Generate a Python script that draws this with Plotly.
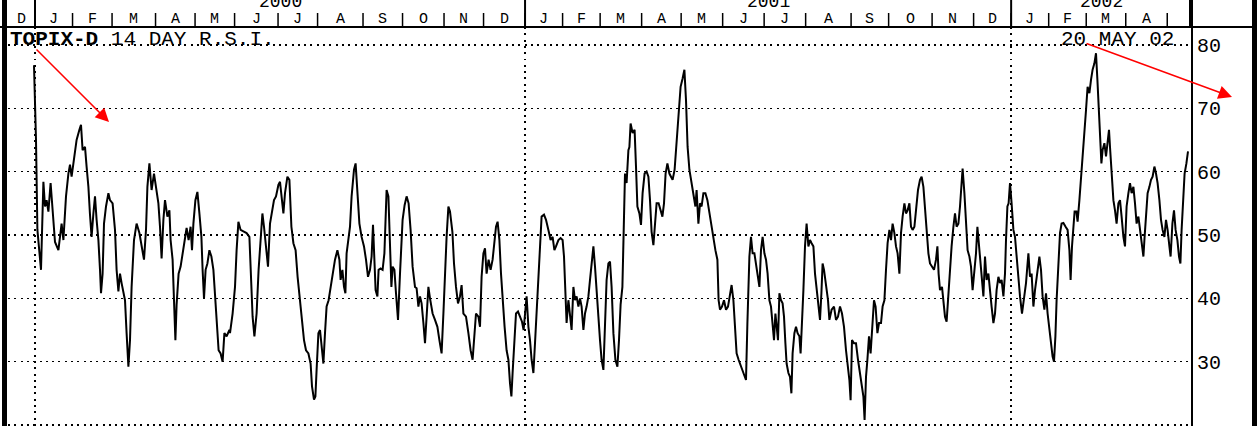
import numpy as np
import pandas as pd
import plotly.graph_objects as go

# ---------------- data (x = trading-day number since 2000-01-01, y = RSI) -------------
day_a = [-0.5, 0.5, 1.2, 3.0, 4.2, 5.0, 5.8, 6.7, 7.8, 8.8, 10.0, 11.7, 13.3, 14.2, 15.5, 16.7, 17.5, 18.3, 19.5, 20.8,
         22.2, 23.0, 23.8, 25.0, 25.8, 26.7, 27.5, 28.3, 29.2, 30.0, 30.8, 31.7, 32.5, 33.0, 33.8, 34.5, 35.5, 36.7, 37.5, 38.8,
         40.0, 40.8, 41.7, 42.5, 43.3, 45.0, 45.8, 46.7, 47.5, 48.3, 49.5, 50.8, 52.2, 53.3, 54.5, 55.5, 56.2, 57.2, 58.3, 59.5,
         60.5, 61.7, 62.5, 63.3, 64.2, 65.0, 66.2, 67.2, 67.8, 68.8, 69.5, 70.2, 70.8, 71.8, 72.8, 73.8, 75.0, 75.8, 76.8, 77.8,
         78.5, 79.2, 80.2, 81.2, 82.2, 83.2, 83.8, 84.5, 85.3, 86.2, 87.2, 88.2, 89.2, 90.0, 90.8, 91.8, 92.8, 93.8, 94.7, 95.8,
         97.2]
rsi_a = [76.8, 65.0, 50.8, 44.5, 58.4, 54.5, 55.5, 53.7, 58.2, 53.4, 48.9, 47.6, 51.8, 49.2, 56.1, 59.7, 61.1, 59.2, 62.4, 65.0,
         66.6, 67.4, 63.4, 63.9, 60.8, 57.6, 53.2, 49.7, 53.4, 56.1, 52.4, 49.2, 44.5, 40.8, 43.9, 51.8, 54.5, 56.6, 55.5, 55.0,
         50.8, 44.5, 41.1, 43.9, 42.4, 39.7, 34.5, 29.2, 33.4, 41.8, 49.2, 51.8, 50.3, 48.2, 46.1, 50.8, 57.6, 61.3, 57.1, 59.7,
         57.6, 55.0, 51.3, 46.3, 52.4, 55.5, 52.9, 53.9, 49.2, 46.1, 39.7, 33.4, 39.0, 43.9, 45.0, 47.1, 49.7, 51.1, 49.2, 51.3,
         47.6, 51.8, 55.5, 56.8, 53.4, 49.7, 44.5, 40.0, 44.5, 45.5, 47.6, 46.6, 44.5, 40.0, 35.5, 31.8, 31.3, 30.0, 34.5, 34.0,
         35.0]

day_b = [97.5, 98.8, 100.0, 100.8, 101.7, 102.8, 104.2, 105.8, 107.2, 108.0, 108.8, 109.7, 110.8, 111.8, 112.8, 113.7, 114.5,
         115.5, 116.5, 117.5, 118.5, 119.5, 120.5, 121.7, 122.5, 123.3, 124.2, 125.0, 126.2, 127.2, 128.2, 129.2, 130.3, 131.3,
         132.5, 133.3, 134.5, 135.5, 136.7, 137.8, 138.5, 139.5, 140.2, 140.8, 141.7, 142.5, 143.3, 144.2, 145.0, 145.8, 146.8,
         147.8, 148.8, 150.0, 151.2, 152.2, 152.8, 153.7, 154.5, 155.2, 155.8, 156.7, 157.5, 158.3, 159.5, 160.3, 161.2, 162.2,
         163.3, 164.5, 165.5, 166.5, 167.5, 168.3, 169.0, 169.7, 170.3, 171.2, 171.8, 172.8, 173.8, 174.7, 175.3, 175.8, 176.7,
         177.5, 178.2, 178.8, 179.7, 180.5, 181.5, 182.5, 183.2, 183.8, 184.8, 185.8, 186.8, 187.8, 188.8, 190.0, 190.8, 191.7,
         192.5, 193.3, 194.2, 195.0, 195.8, 196.7]
rsi_b = [34.5, 37.6, 41.8, 47.6, 52.1, 50.8, 50.5, 50.3, 49.7, 43.9, 37.1, 34.0, 37.6, 44.5, 50.3, 53.4, 51.3, 48.2, 45.0, 51.8,
         53.9, 55.5, 56.1, 57.9, 58.4, 56.1, 53.4, 56.6, 59.2, 58.7, 51.3, 48.7, 47.6, 43.4, 39.2, 37.1, 33.4, 31.8, 31.3, 29.7,
         26.1, 24.0, 24.5, 28.7, 34.5, 35.0, 32.4, 29.7, 34.5, 38.7, 39.7, 41.6, 43.9, 46.1, 47.6, 46.1, 42.9, 44.5, 41.8, 40.8,
         47.1, 49.2, 51.3, 56.1, 60.3, 61.3, 56.6, 51.8, 49.7, 48.2, 46.1, 43.4, 44.5, 46.6, 51.6, 46.6, 41.3, 40.3, 44.5, 44.7,
         44.5, 47.1, 52.4, 57.1, 56.1, 48.2, 41.8, 45.0, 44.5, 40.8, 36.6, 43.9, 48.2, 52.4, 54.7, 56.1, 55.0, 50.8, 45.0, 41.8,
         41.6, 38.7, 40.3, 39.2, 36.1, 32.9, 37.1, 41.8]

day_c = [197.5, 198.8, 200.0, 201.2, 202.2, 203.3, 204.2, 205.0, 205.8, 206.7, 207.5, 208.7, 209.5, 210.5, 211.5, 212.5, 213.3,
         214.2, 215.5, 216.7, 217.8, 218.8, 219.7, 220.5, 221.7, 222.5, 223.3, 224.2, 225.0, 225.8, 226.8, 227.8, 228.8, 229.7,
         230.5, 231.3, 232.2, 233.0, 233.8, 234.8, 235.8, 236.7, 237.5, 238.2, 238.8, 239.5, 240.5, 241.5, 242.5, 243.5, 244.3,
         245.2, 245.8, 246.7, 247.5, 248.3, 249.2, 250.0, 250.8, 251.7, 252.5, 253.3, 254.5, 255.5, 256.7, 257.8, 258.8, 259.7,
         260.5, 261.7, 262.8, 263.8, 264.5, 265.2, 265.8, 266.7, 267.5, 268.3, 269.2, 270.0, 270.8, 271.7, 272.5, 273.3, 274.2,
         275.0, 275.8, 276.7, 277.5, 278.3, 279.2, 280.0, 280.8, 281.7, 282.5, 283.3, 284.2, 285.0, 285.8, 286.7, 287.5, 288.3,
         289.2, 290.2, 291.2, 292.0, 292.8, 293.7, 294.2, 295.0, 295.8, 296.7, 297.2]
rsi_c = [40.0, 37.6, 36.6, 35.5, 33.4, 31.3, 37.6, 45.0, 49.7, 54.5, 53.7, 50.5, 45.5, 41.8, 39.2, 40.3, 42.1, 37.6, 37.1, 34.5,
         31.8, 30.3, 34.0, 37.6, 37.1, 35.5, 43.4, 47.1, 47.9, 43.9, 46.1, 44.5, 46.1, 49.2, 51.3, 52.1, 49.2, 43.9, 39.7, 35.5,
         31.8, 30.3, 26.6, 24.5, 28.2, 31.8, 37.6, 37.9, 37.1, 36.3, 35.0, 37.6, 40.3, 35.5, 33.4, 30.3, 28.2, 32.9, 37.6, 42.9,
         49.2, 52.9, 53.2, 52.4, 50.8, 49.2, 49.7, 47.6, 48.2, 49.2, 49.5, 49.2, 46.6, 40.8, 36.1, 39.7, 37.6, 35.0, 41.8, 39.7,
         40.3, 38.7, 40.0, 38.7, 35.0, 37.6, 38.7, 40.3, 42.9, 46.1, 48.2, 45.0, 41.8, 37.1, 33.4, 30.3, 28.7, 34.5, 42.9, 45.5,
         45.8, 41.8, 34.5, 30.3, 29.2, 33.4, 39.0, 41.8, 50.8, 59.7, 58.2, 63.4, 63.9]

day_d = [297.8, 298.8, 299.8, 300.5, 301.2, 302.2, 303.0, 303.8, 304.8, 305.8, 306.7, 307.5, 308.3, 309.2, 310.0, 310.8, 311.8,
         312.8, 313.7, 314.5, 315.3, 316.2, 317.2, 318.0, 318.8, 319.8, 320.8, 321.8, 322.8, 323.8, 324.7, 325.5, 326.3, 327.2,
         328.2, 329.2, 330.2, 330.8, 331.7, 332.5, 333.3, 334.2, 335.2, 336.2, 337.2, 338.2, 339.2, 340.2, 341.2, 341.8, 342.5,
         343.5, 344.5, 345.5, 346.5, 347.5, 348.3, 349.2, 350.0, 350.8, 351.8, 352.8, 353.8, 354.8, 355.5, 356.2, 357.2, 358.0,
         358.8, 359.7, 360.5, 361.3, 362.2, 363.0, 363.8, 364.7, 365.5, 366.3, 367.2, 368.0, 368.8, 369.5, 370.2, 370.8, 371.5,
         372.2, 373.0, 373.8, 374.5, 375.2, 375.8, 376.7, 377.5, 378.2, 378.8, 379.7, 380.5, 381.3, 382.2, 382.8, 383.5, 384.2,
         385.0, 385.8, 386.7, 387.5, 388.3, 389.2, 390.0, 390.8, 391.7, 392.5, 393.2, 393.8, 394.5, 395.5, 396.5, 397.2]
rsi_d = [67.6, 66.1, 66.6, 60.8, 54.5, 53.4, 51.6, 56.6, 59.7, 60.0, 59.2, 55.5, 50.5, 48.4, 51.3, 55.0, 55.0, 53.9, 52.9, 55.0,
         59.7, 61.3, 59.7, 59.2, 58.7, 60.3, 65.0, 69.2, 73.4, 74.7, 76.1, 71.3, 63.9, 60.3, 58.2, 56.1, 54.5, 57.1, 51.8, 55.0,
         54.5, 56.6, 56.6, 55.5, 53.4, 51.3, 49.2, 47.6, 46.1, 39.7, 38.2, 38.7, 39.7, 38.2, 38.7, 40.3, 42.1, 39.7, 35.5, 31.3,
         30.3, 29.5, 28.7, 27.6, 27.1, 36.1, 46.6, 49.7, 47.1, 47.1, 45.5, 43.9, 41.8, 47.6, 49.7, 47.1, 46.1, 43.9, 39.7, 38.7,
         35.5, 33.4, 37.6, 35.5, 33.4, 40.8, 39.7, 39.2, 37.1, 32.9, 29.7, 28.2, 27.6, 25.0, 31.3, 34.5, 35.5, 34.5, 34.0, 31.3,
         35.5, 41.3, 48.2, 51.8, 48.2, 49.2, 48.7, 48.2, 43.9, 41.8, 38.7, 36.6, 40.8, 45.5, 44.5, 42.4, 39.7, 36.6]

day_e = [398.3, 399.5, 400.5, 401.5, 402.5, 403.5, 404.5, 405.5, 406.3, 407.2, 407.8, 408.5, 409.5, 410.5, 411.5, 412.5, 413.3,
         414.2, 414.8, 415.5, 416.2, 417.0, 417.8, 418.7, 419.5, 420.3, 421.2, 422.0, 423.0, 423.8, 424.7, 425.5, 426.3, 427.2,
         428.0, 428.8, 429.7, 430.5, 431.3, 432.2, 433.0, 433.8, 434.7, 435.5, 436.3, 437.2, 438.0, 438.8, 439.7, 440.5, 441.5,
         442.5, 443.3, 444.2, 445.0, 445.8, 446.7, 447.5, 448.5, 449.5, 450.5, 451.2, 451.8, 452.5, 453.5, 454.2, 455.0, 455.8,
         456.7, 457.5, 458.3, 459.2, 460.0, 460.8, 461.7, 462.5, 463.3, 463.8, 464.7, 465.5, 466.3, 467.2, 468.0, 468.8, 469.7,
         470.5, 471.2, 471.8, 472.5, 473.3, 474.2, 475.0, 475.8, 476.7, 477.5, 478.3, 479.2, 480.0, 480.8, 481.7, 482.5, 483.3,
         484.2, 485.0, 485.5, 486.2, 486.8, 487.5]
rsi_e = [38.2, 38.7, 36.6, 37.1, 38.7, 37.6, 35.5, 31.8, 29.2, 27.1, 23.9, 33.4, 32.9, 32.9, 30.3, 28.2, 26.1, 24.5, 20.8, 27.6,
         30.3, 34.0, 31.3, 36.1, 39.7, 38.7, 34.5, 36.1, 36.1, 38.7, 39.7, 44.5, 48.7, 50.8, 49.2, 51.8, 50.3, 48.2, 47.1, 43.9,
         50.3, 52.9, 55.0, 53.4, 53.9, 55.0, 51.3, 50.8, 51.3, 53.9, 57.1, 58.7, 59.2, 57.6, 53.9, 49.7, 47.1, 45.5, 45.0, 44.5,
         46.1, 48.2, 43.9, 41.3, 41.8, 39.7, 37.1, 36.3, 40.8, 45.5, 48.2, 51.3, 53.4, 51.3, 51.8, 54.5, 58.2, 60.5, 56.6, 52.4,
         47.6, 46.6, 45.0, 41.3, 44.5, 47.1, 51.3, 49.2, 46.6, 42.9, 40.3, 46.6, 42.9, 43.9, 40.8, 38.7, 36.1, 37.6, 41.3, 43.4,
         42.4, 42.9, 40.3, 43.9, 49.2, 54.5, 55.0, 58.2]

day_f = [488.3, 489.2, 490.0, 490.8, 491.7, 492.5, 493.5, 494.5, 495.5, 496.7, 497.5, 498.3, 499.2, 500.0, 501.2, 502.2, 503.0,
         503.8, 504.7, 505.5, 506.3, 507.2, 508.0, 508.8, 509.5, 510.2, 510.8, 511.7, 512.5, 513.3, 514.2, 515.3, 516.3, 517.2,
         517.8, 518.5, 519.2, 519.8, 520.7, 521.3, 522.2, 523.0, 523.8, 524.7, 525.5, 526.3, 527.2, 528.0, 528.8, 529.7, 530.5,
         531.2, 531.8, 532.5, 533.2, 533.8, 534.7, 535.5, 536.3, 537.0, 537.5, 538.3, 539.2, 540.0, 540.8, 541.7, 542.5, 543.3,
         544.2, 545.0, 545.8, 546.7, 547.5, 548.3, 549.2, 550.0, 550.8, 551.7, 552.5, 553.3, 554.2, 554.8, 555.5, 556.3, 557.2,
         558.0, 558.8, 559.7, 560.5, 561.3, 562.2, 563.0, 563.8, 564.7, 565.5, 566.3, 567.2, 567.8, 568.7, 569.5, 570.3, 571.2,
         572.0, 572.7, 573.3, 574.0, 574.8, 575.7, 576.5]
rsi_f = [55.0, 50.8, 49.7, 46.6, 43.4, 40.3, 37.6, 39.7, 42.4, 47.1, 43.4, 43.9, 38.7, 41.3, 44.5, 46.6, 44.5, 40.3, 38.2, 40.8,
         37.6, 35.0, 32.9, 30.8, 30.0, 34.0, 39.7, 45.0, 50.3, 51.8, 51.9, 51.3, 50.8, 47.6, 42.9, 48.2, 50.8, 53.7, 53.7, 52.1,
         55.5, 58.7, 62.4, 66.6, 69.7, 73.4, 72.4, 74.5, 76.1, 77.1, 78.7, 74.5, 69.7, 65.0, 61.3, 63.4, 64.5, 62.4, 65.0, 66.6,
         63.9, 59.2, 55.5, 53.9, 51.8, 55.0, 55.5, 52.9, 49.7, 48.2, 54.5, 56.6, 58.2, 56.6, 57.6, 55.0, 51.8, 52.9, 50.8, 48.7,
         46.6, 49.7, 53.4, 56.6, 57.6, 58.7, 59.2, 60.8, 59.7, 58.2, 55.5, 52.4, 50.8, 49.7, 52.4, 50.8, 48.2, 46.6, 51.8, 53.9,
         50.8, 49.2, 46.6, 45.5, 50.8, 56.1, 59.7, 61.3, 63.2]

# Tokyo market holidays (weekdays only matter)
jp_holidays = ["1999-12-23", "1999-12-31",
               "2000-01-03", "2000-01-10", "2000-02-11", "2000-03-20", "2000-05-03", "2000-05-04", "2000-05-05",
               "2000-07-20", "2000-09-15", "2000-10-09", "2000-11-03", "2000-11-23",
               "2001-01-01", "2001-01-02", "2001-01-03", "2001-01-08", "2001-02-12", "2001-03-20", "2001-04-30",
               "2001-05-03", "2001-05-04", "2001-07-20", "2001-09-24", "2001-10-08", "2001-11-23", "2001-12-24",
               "2001-12-31",
               "2002-01-01", "2002-01-02", "2002-01-03", "2002-01-14", "2002-02-11", "2002-03-21", "2002-04-29",
               "2002-05-03", "2002-05-06"]
month_starts = [d.strftime("%Y-%m-%d") for d in pd.date_range("1999-12-01", "2002-05-01", freq="MS")]
month_letters = ["D"] + list("JFMAMJJASOND") * 2 + list("JFMA") + [""]
year_starts = ["2000-01-01", "2001-01-01", "2002-01-01"]
year_labels = ["2000", "2001", "2002"]
y_ticks = [20, 30, 40, 50, 60, 70, 80]
title_name = "TOPIX-D"
title_rest = " 14 DAY R.S.I."
date_label = "20 MAY 02"

# ---------------- helpers ----------------
ORIGIN = "2000-01-01"
DAY_SCALE = 0.988


def tday(date):
    return float(np.busday_count(ORIGIN, date, holidays=jp_holidays)) * DAY_SCALE


days = day_a + day_b + day_c + day_d + day_e + day_f
rsi = rsi_a + rsi_b + rsi_c + rsi_d + rsi_e + rsi_f
assert len(days) == len(rsi)

W, H = 1257, 426
ML, MR, MT, MB = 8, 66, 27, 0
PW, PH = W - ML - MR, H - MT - MB
X_RANGE = [-13.5, 578.0]
Y_RANGE = [19.84, 82.84]


def pxx(px):
    return (px - ML) / PW


def pxy(py):
    return (H - MB - py) / PH


MONO = "Liberation Mono"
DOTS = "2px,4.3px"

fig = go.Figure()
fig.add_trace(go.Scatter(x=days, y=rsi, mode="lines", line=dict(color="black", width=2),
                         hoverinfo="skip", showlegend=False))

shapes = []
annotations = []

# header base line / plot top
shapes.append(dict(type="line", xref="paper", yref="paper", x0=pxx(0), x1=pxx(W), y0=pxy(27), y1=pxy(27),
                   line=dict(color="black", width=2)))
# month separators and letters
ms = [tday(d) for d in month_starts]
ms_end = ms + [X_RANGE[1]]
for i, m in enumerate(ms):
    if X_RANGE[0] < m < X_RANGE[1]:
        shapes.append(dict(type="line", xref="x", yref="paper", x0=m, x1=m, y0=pxy(13), y1=pxy(27),
                           line=dict(color="black", width=1.5)))
    lo = max(m, X_RANGE[0])
    hi = min(ms_end[i + 1], X_RANGE[1])
    if month_letters[i] and hi > lo:
        annotations.append(dict(xref="x", yref="paper", x=(lo + hi) / 2, y=pxy(19.6), text=month_letters[i],
                                showarrow=False, xanchor="center", yanchor="middle", borderpad=0,
                                font=dict(family=MONO, size=15, color="black")))
# year separators and labels
ys = [tday(d) for d in year_starts]
ys_end = ys[1:] + [X_RANGE[1]]
for y0, y1, lab in zip(ys, ys_end, year_labels):
    shapes.append(dict(type="line", xref="x", yref="paper", x0=y0, x1=y0, y0=pxy(0), y1=pxy(27),
                       line=dict(color="black", width=2)))
    annotations.append(dict(xref="x", yref="paper", x=(y0 + y1) / 2, y=pxy(1.5), text=lab, showarrow=False,
                            xanchor="center", yanchor="middle", borderpad=0,
                            font=dict(family=MONO, size=18, color="black")))
# right axis line through header (thicker)
shapes.append(dict(type="line", xref="paper", yref="paper", x0=1, x1=1, y0=pxy(0), y1=pxy(27),
                   line=dict(color="black", width=4)))
# outer borders
shapes.append(dict(type="rect", xref="paper", yref="paper", x0=pxx(2), x1=pxx(7), y0=pxy(H), y1=pxy(0),
                   fillcolor="black", line=dict(width=0)))
shapes.append(dict(type="rect", xref="paper", yref="paper", x0=pxx(1252), x1=pxx(1258), y0=pxy(H), y1=pxy(0),
                   fillcolor="black", line=dict(width=0)))

# title texts
annotations.append(dict(xref="paper", yref="paper", x=pxx(9), y=pxy(39.5), xanchor="left", yanchor="middle",
                        text="<b>" + title_name + "</b>" + title_rest, showarrow=False, borderpad=0,
                        font=dict(family=MONO, size=21, color="black")))
annotations.append(dict(xref="paper", yref="paper", x=pxx(1175), y=pxy(39.5), xanchor="right", yanchor="middle",
                        text=date_label, showarrow=False, borderpad=0,
                        font=dict(family=MONO, size=21, color="black")))
# red arrows
for (tx, ty), (hx, hy) in [((35, 48), (109, 122)), ((1085, 43), (1232, 97))]:
    annotations.append(dict(xref="paper", yref="paper", x=pxx(hx), y=pxy(hy), ax=tx - hx, ay=ty - hy,
                            axref="pixel", ayref="pixel", text="", showarrow=True, arrowhead=2,
                            arrowsize=1.8, arrowwidth=1.5, arrowcolor="#ff0000", standoff=0))

fig.update_layout(
    width=W, height=H, autosize=False,
    margin=dict(l=ML, r=MR, t=MT, b=MB, pad=0),
    paper_bgcolor="white", plot_bgcolor="white",
    showlegend=False,
    shapes=shapes, annotations=annotations,
    xaxis=dict(range=X_RANGE, tickvals=ys, showticklabels=False, ticks="", showgrid=True,
               gridcolor="black", gridwidth=1.5, griddash=DOTS, zeroline=False, showline=False, fixedrange=True),
    yaxis=dict(range=Y_RANGE, side="right", tickvals=y_ticks, ticktext=[str(v) for v in y_ticks],
               ticks="", showgrid=True, gridcolor="black", gridwidth=1.5, griddash=DOTS, zeroline=False,
               showline=True, linecolor="black", linewidth=2, ticklabelstandoff=0,
               tickfont=dict(family=MONO, size=20, color="black"), fixedrange=True),
)

fig.write_html("out.html", config={"displayModeBar": False, "staticPlot": True},
               post_script="document.body.style.margin='0px';document.body.style.overflow='hidden';")
